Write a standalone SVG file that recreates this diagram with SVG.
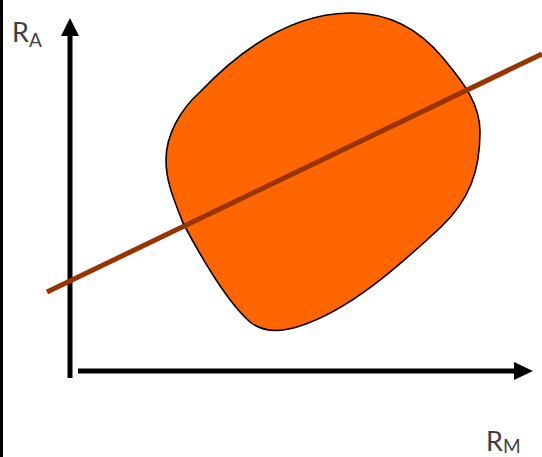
<svg xmlns="http://www.w3.org/2000/svg" width="542" height="457" viewBox="0 0 542 457">
<style>
.lbl{font-family:Lato,"Liberation Sans",sans-serif;fill:#404040;font-size:27px}
.sub{font-size:19px}
.axis{stroke:#000;stroke-width:5;fill:none}
</style>
<rect width="542" height="457" fill="#fff"/>
<line x1="1.5" y1="0" x2="1.5" y2="457" stroke="#000" stroke-width="3"/>
<g id="region">
<path d="M349,13 C390,12 420,30 443,58 C465,84 480,105 480,132 C480,170 470,200 440,228 C400,265 350,310 300,326 C285,331 265,334 250,322 C225,300 200,255 183,223 C172,195 166,180 166,160 C166,135 180,110 200,92 C240,50 290,14 349,13 Z" fill="#FF6600" stroke="#000" stroke-width="1.6"/>
</g>
<g id="connectors">
<line class="axis" x1="70" y1="378" x2="70" y2="34"/>
<polygon points="70,18 61,36 79,36" fill="#000"/>
<line class="axis" x1="78" y1="371" x2="516" y2="371"/>
<polygon points="533,371 514,362 514,380" fill="#000"/>
<line x1="47" y1="292" x2="542" y2="54" stroke="#993300" stroke-width="5"/>
</g>
<g id="label-ra"><text class="lbl" x="12" y="42">R<tspan class="sub" dy="5">A</tspan></text></g>
<g id="label-rm"><text class="lbl" x="486" y="451">R<tspan class="sub" dy="2">M</tspan></text></g>
</svg>
